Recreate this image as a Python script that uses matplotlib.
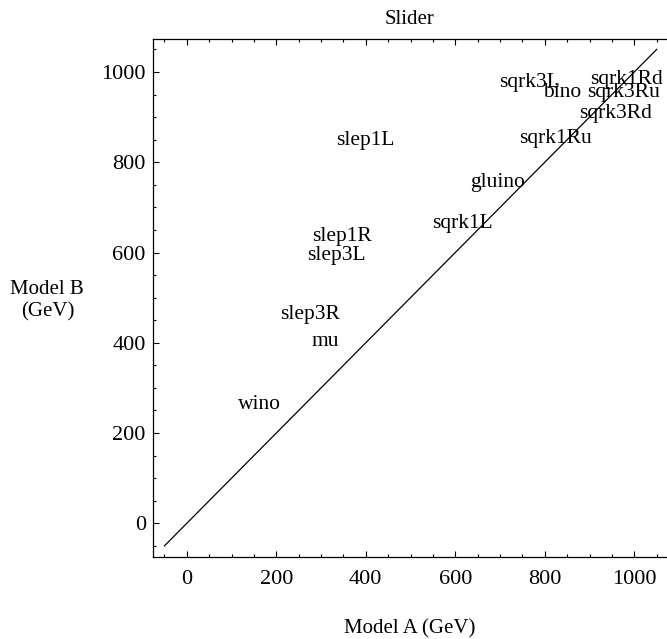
import matplotlib
matplotlib.use("Agg")
import matplotlib.pyplot as plt
from matplotlib.ticker import MultipleLocator

plt.rcParams['font.family'] = ['Liberation Serif', 'DejaVu Serif']

# particle labels, placed at (Model A mass, Model B mass)
names = ["wino", "mu", "slep3R", "slep3L", "slep1R", "slep1L", "sqrk1L",
         "gluino", "sqrk1Ru", "sqrk3Rd", "sqrk3Ru", "sqrk1Rd", "bino", "sqrk3L"]
model_a = [162, 309, 275, 335, 346, 398, 615, 695, 823, 957, 975, 983, 838, 767]
model_b = [264, 402, 463, 594, 636, 849, 665, 754, 853, 907, 954, 984, 955, 976]

# diagonal reference line A = B
line_x = [-50, 1050]
line_y = [-50, 1050]

fig = plt.figure(figsize=(6.67, 6.39), dpi=100)
ax = fig.add_axes([0.229, 0.128, 0.771, 0.811])

ax.plot(line_x, line_y, color='black', lw=0.9)
for n, a, b in zip(names, model_a, model_b):
    ax.text(a, b, n, ha='center', va='center', fontsize=15.5)

ax.set_xlim(-76, 1073)
ax.set_ylim(-75, 1073)
ax.xaxis.set_major_locator(MultipleLocator(200))
ax.xaxis.set_minor_locator(MultipleLocator(50))
ax.yaxis.set_major_locator(MultipleLocator(200))
ax.yaxis.set_minor_locator(MultipleLocator(50))
ax.tick_params(which='both', direction='in', top=True, right=False,
               labelsize=16, width=0.8)
ax.tick_params(which='major', length=4.5)
ax.tick_params(axis='y', which='major', pad=5)
ax.tick_params(axis='x', which='major', pad=9)
ax.tick_params(which='minor', length=2.5)
ax.spines['right'].set_visible(False)
for s in ['left', 'bottom', 'top']:
    ax.spines[s].set_linewidth(0.9)

ax.set_title("Slider", fontsize=15, pad=11)
ax.set_xlabel("Model A (GeV)", fontsize=15, labelpad=22)
ax.set_ylabel("Model B\n(GeV)", fontsize=15, rotation=0, ha='center',
              va='center')
ax.yaxis.set_label_coords(-0.205, 0.495)

fig.savefig("out.png", dpi=100)
